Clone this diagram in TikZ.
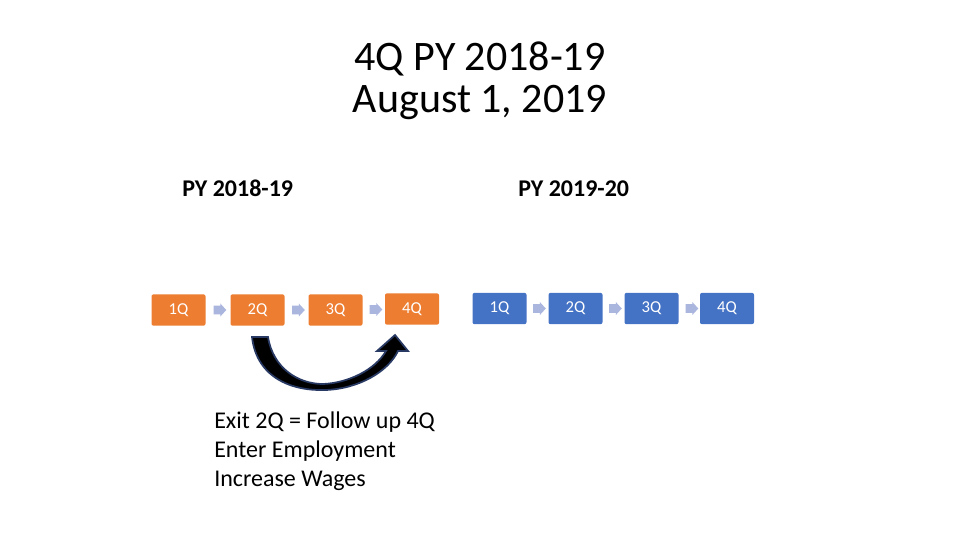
\documentclass[tikz,border=0pt]{standalone}
\usepackage{fontspec}
\setmainfont{Carlito}
\usetikzlibrary{shapes.arrows}
\definecolor{qorange}{RGB}{237,125,49}
\definecolor{qblue}{RGB}{68,114,196}
\definecolor{qarrow}{RGB}{170,182,222}
\definecolor{qnavy}{RGB}{40,58,100}
\tikzset{
  qbox/.style={rectangle, rounded corners=1.5pt, minimum width=40.5pt, minimum height=23.5pt, inner sep=0pt, text=white, font=\fontsize{12.5}{14}\selectfont},
  obox/.style={qbox, fill=qorange},
  bbox/.style={qbox, fill=qblue},
  sarrow/.style={single arrow, fill=qarrow, draw=none, minimum height=9.5pt, minimum width=9.5pt, single arrow head extend=1.7pt, single arrow tip angle=95, inner xsep=0pt, inner ysep=3pt, shape border rotate=0},
}
\begin{document}
\begin{tikzpicture}[x=0.75pt, y=-0.75pt]
\useasboundingbox (0,0) rectangle (960,540);
% title
\node[anchor=base, font=\fontsize{31.5}{36}\selectfont] (t1) at (480,70) {4Q PY 2018-19};
\node[anchor=base, font=\fontsize{31.5}{36}\selectfont] (t2) at (480,112) {August 1, 2019};
% year labels
\node[anchor=base west, inner sep=0pt, font=\fontsize{18}{21}\selectfont\bfseries] (py1) at (182,196) {PY 2018-19};
\node[anchor=base west, inner sep=0pt, font=\fontsize{18}{21}\selectfont\bfseries] (py2) at (518,196) {PY 2019-20};
% orange boxes
\node[obox] (o1) at (178.5,310) {1Q};
\node[obox] (o2) at (257.5,310) {2Q};
\node[obox] (o3) at (335.5,310) {3Q};
\node[obox] (o4) at (412,309) {4Q};
% blue boxes
\node[bbox] (b1) at (499.5,308.5) {1Q};
\node[bbox] (b2) at (575.5,308.5) {2Q};
\node[bbox] (b3) at (651.5,308.5) {3Q};
\node[bbox] (b4) at (727,308.5) {4Q};
% small arrows
\node[sarrow] (a1) at (218,310) {};
\node[sarrow] (a2) at (296.5,310) {};
\node[sarrow] (a3) at (374,309.5) {};
\node[sarrow] (a4) at (537.5,308.5) {};
\node[sarrow] (a5) at (613.5,308.5) {};
\node[sarrow] (a6) at (690,308.5) {};
% curved block arrow
\fill[black, draw=qnavy, line width=1.3pt, line join=miter]
  (252,337) .. controls (257,380) and (295,391) .. (325,390)
  .. controls (358,389) and (388,372) .. (398,351)
  -- (408,351) -- (395,335) -- (377,351) -- (386,351)
  .. controls (375,370) and (348,383) .. (323,384)
  .. controls (298,384) and (273,368) .. (268,337) -- cycle;
% body text
\node[anchor=base west, inner sep=0pt, font=\fontsize{18}{21}\selectfont] (l1) at (214,428) {Exit 2Q = Follow up 4Q};
\node[anchor=base west, inner sep=0pt, font=\fontsize{18}{21}\selectfont] (l2) at (214,457) {Enter Employment};
\node[anchor=base west, inner sep=0pt, font=\fontsize{18}{21}\selectfont] (l3) at (214,486) {Increase Wages};
\end{tikzpicture}
\end{document}
